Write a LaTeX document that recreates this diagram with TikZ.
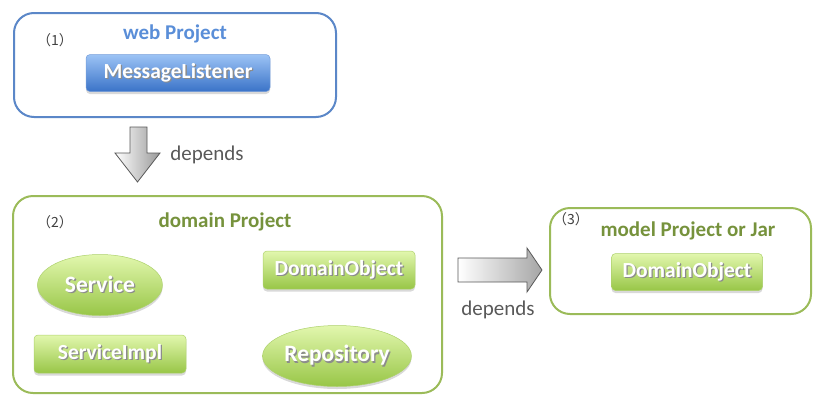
\documentclass[tikz,border=0pt]{standalone}
\usepackage{fontspec}
\setmainfont{Carlito}
\newfontfamily\cjk{Noto Sans CJK JP}
\usetikzlibrary{shapes.geometric,shadows}
\definecolor{bluebd}{HTML}{5B87C8}
\definecolor{bluetx}{HTML}{5A8ED8}
\definecolor{greenbd}{HTML}{9BBB59}
\definecolor{greentx}{HTML}{76923C}
\definecolor{btop}{HTML}{9CC3F5}
\definecolor{bbot}{HTML}{3A73C8}
\definecolor{gtop}{HTML}{E2F7AE}
\definecolor{gbot}{HTML}{98C647}
\definecolor{deptx}{HTML}{595959}
\newcommand\shd[1]{\makebox[0pt][l]{\raisebox{-1.3pt}{\hspace{1.3pt}\textcolor{black!45}{#1}}}#1}
\tikzset{
  frame/.style={draw, line width=2pt, rounded corners=20pt, inner sep=0pt},
  title/.style={font=\bfseries\fontsize{21}{24}\selectfont, inner sep=0pt},
  num/.style={font=\cjk\fontsize{14}{16}\selectfont, text=black!75, inner sep=0pt},
  btn/.style={rounded corners=4pt, inner sep=0pt, text=white,
    font=\bfseries\fontsize{21.5}{24}\selectfont,
    drop shadow={shadow xshift=0pt, shadow yshift=-2.5pt, opacity=0.3}},
  bluebtn/.style={btn, top color=btop, bottom color=bbot, draw=bbot!70!white, line width=0.5pt},
  greenbtn/.style={btn, top color=gtop, bottom color=gbot, draw=gbot!80!white, line width=0.5pt},
  greenell/.style={ellipse, inner sep=0pt, text=white,
    font=\bfseries\fontsize{23.5}{26}\selectfont,
    top color=gtop, bottom color=gbot, draw=gbot!80!white, line width=0.5pt,
    drop shadow={shadow xshift=0pt, shadow yshift=-2.5pt, opacity=0.3}},
  dep/.style={font=\fontsize{21}{24}\selectfont, text=deptx, inner sep=0pt},
  bigarrow/.style={draw=black!65, line width=0.8pt, line join=miter}
}
\begin{document}
\begin{tikzpicture}[x=1pt,y=1pt]
\useasboundingbox (0,0) rectangle (813,-394);
% frames
\node[frame, draw=bluebd, minimum width=322pt, minimum height=104pt] (f1) at (175,-65) {};
\node[frame, draw=greenbd, minimum width=429pt, minimum height=197pt] (f2) at (227.5,-294.5) {};
\node[frame, draw=greenbd, minimum width=261pt, minimum height=106pt] (f3) at (680.5,-261) {};
% titles
\node[num] (n1) at (55,-40) {（1）};
\node[title, text=bluetx] (t1) at (175,-34) {web Project};
\node[num] (n2) at (55,-222) {（2）};
\node[title, text=greentx] (t2) at (225,-222) {domain Project};
\node[num] (n3) at (571,-219) {（3）};
\node[title, text=greentx] (t3) at (688,-231) {model Project or Jar};
% components
\node[bluebtn, minimum width=184pt, minimum height=37pt] (ml) at (178,-73) {\shd{MessageListener}};
\node[greenell, minimum width=125pt, minimum height=61pt] (svc) at (100,-285) {\shd{Service}};
\node[greenbtn, minimum width=152pt, minimum height=38pt] (do1) at (339,-270) {\shd{DomainObject}};
\node[greenbtn, minimum width=152pt, minimum height=38pt] (si) at (110,-354) {\shd{ServiceImpl}};
\node[greenell, minimum width=122pt, minimum height=61pt] (repo) at (337,-356) {\shd{Repository}};
\node[greenbtn, minimum width=151pt, minimum height=37pt] (do2) at (687,-272) {\shd{DomainObject}};
% arrows
\draw[bigarrow, left color=white, right color=black!40]
  (130,-127) -- (147,-127) -- (147,-153) -- (160,-153) -- (137.5,-182)
  -- (115,-153) -- (130,-153) -- cycle;
\node[dep] (d1) at (207,-155) {depends};
\draw[bigarrow, top color=white, bottom color=black!35, shading angle=90]
  (458,-258) -- (527,-258) -- (527,-248) -- (542,-270) -- (527,-292)
  -- (527,-282) -- (458,-282) -- cycle;
\node[dep] (d2) at (498,-310) {depends};
\end{tikzpicture}
\end{document}
